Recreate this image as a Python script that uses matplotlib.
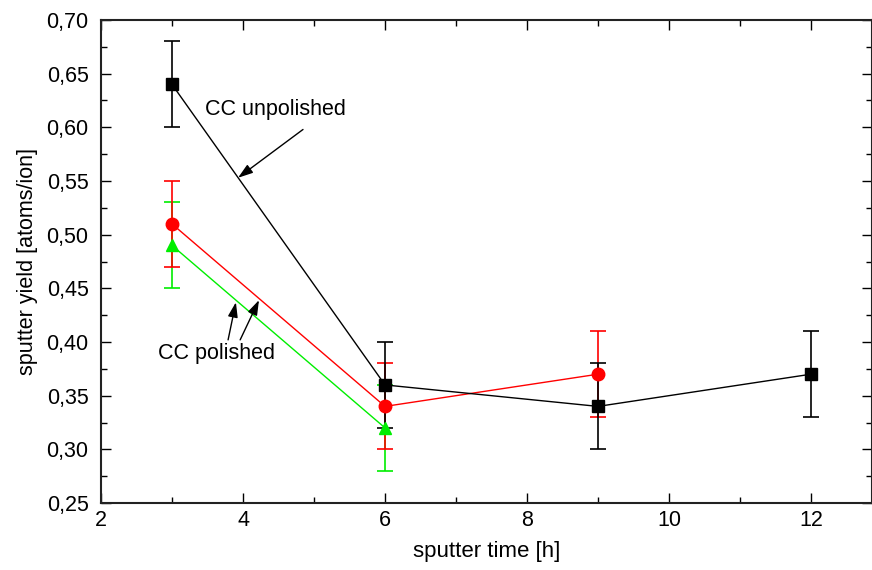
import matplotlib.pyplot as plt
from matplotlib.ticker import MultipleLocator, FuncFormatter

plt.rcParams['font.family'] = ['Liberation Sans', 'DejaVu Sans']

# data
t_unpol = [3, 6, 9, 12]
y_unpol = [0.64, 0.36, 0.34, 0.37]
e_unpol = [0.04, 0.04, 0.04, 0.04]

t_red = [3, 6, 9]
y_red = [0.51, 0.34, 0.37]
e_red = [0.04, 0.04, 0.04]

t_green = [3, 6]
y_green = [0.49, 0.32]
e_green = [0.04, 0.04]

fig = plt.figure(figsize=(8.72, 5.70), dpi=100)
ax = fig.add_axes([101/872, 67/570, 771/872, 483/570])

ax.errorbar(t_green, y_green, yerr=e_green, color='#00ee00', marker='^', ms=9,
            lw=1, elinewidth=1.2, capsize=6, capthick=1.2)
ax.errorbar(t_red, y_red, yerr=e_red, color='red', marker='o', ms=9,
            lw=1, elinewidth=1.2, capsize=6, capthick=1.2)
ax.errorbar(t_unpol, y_unpol, yerr=e_unpol, color='black', marker='s', ms=8,
            lw=1, elinewidth=1.2, capsize=6, capthick=1.2)

ax.set_xlim(2, 2 + 771/71)
ax.set_ylim(0.25, 0.70)
ax.xaxis.set_major_locator(MultipleLocator(2))
ax.xaxis.set_minor_locator(MultipleLocator(1))
ax.yaxis.set_major_locator(MultipleLocator(0.05))
ax.yaxis.set_minor_locator(MultipleLocator(0.025))
ax.yaxis.set_major_formatter(FuncFormatter(lambda v, p: f"{v:.2f}".replace('.', ',')))
ax.tick_params(which='both', direction='in', top=True, right=True, labelsize=15.5, width=1)
ax.tick_params(axis='y', pad=9)
ax.tick_params(axis='x', pad=5)
ax.tick_params(which='major', length=7)
ax.tick_params(which='minor', length=4)
for s in ax.spines.values():
    s.set_linewidth(1.5)
    s.set_color('#222222')

ax.set_xlabel("sputter time [h]", fontsize=16, labelpad=7)
ax.set_ylabel("sputter yield [atoms/ion]", fontsize=15.5, labelpad=6)

arrow = dict(arrowstyle='-|>,head_length=0.9,head_width=0.3', color='black', lw=1,
             shrinkA=0, shrinkB=0)
ax.text(4.45, 0.617, "CC unpolished", fontsize=15.5, ha='center', va='center')
ax.annotate("", xy=(3.93, 0.553), xytext=(4.845, 0.598), arrowprops=arrow)
ax.text(3.63, 0.389, "CC polished", fontsize=15.5, ha='center', va='center')
ax.annotate("", xy=(3.90, 0.437), xytext=(3.79, 0.402), arrowprops=arrow)
ax.annotate("", xy=(4.225, 0.439), xytext=(3.96, 0.402), arrowprops=arrow)

fig.savefig('out.png', dpi=100)
